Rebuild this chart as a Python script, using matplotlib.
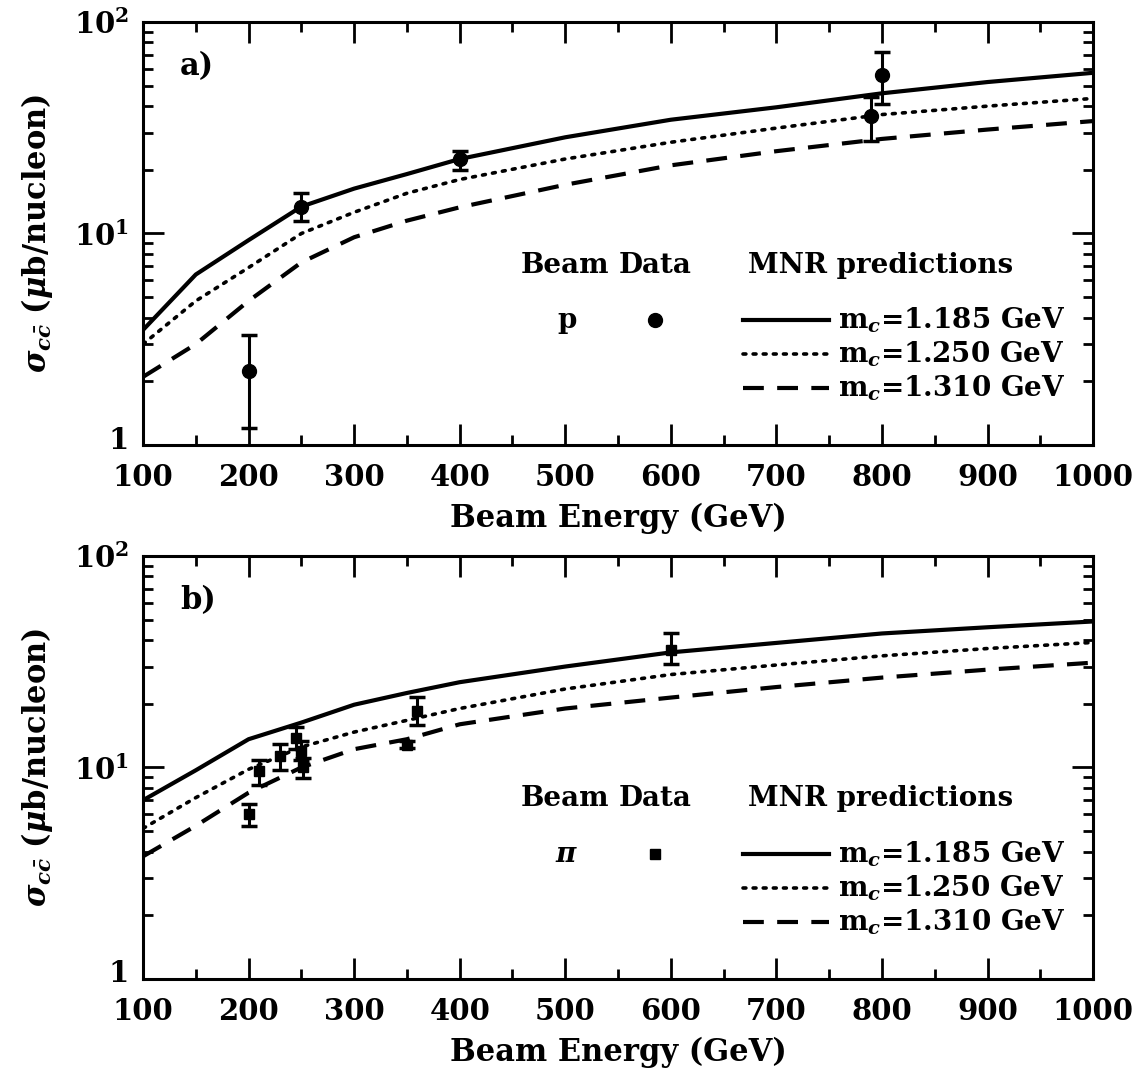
import matplotlib
matplotlib.use("Agg")
import matplotlib.pyplot as plt
import matplotlib.transforms as mtransforms
from matplotlib.ticker import FixedLocator, MultipleLocator, NullFormatter
from matplotlib.lines import Line2D

plt.rcParams['font.family'] = 'DejaVu Serif'
plt.rcParams['font.weight'] = 'bold'
plt.rcParams['mathtext.fontset'] = 'custom'
plt.rcParams['mathtext.rm'] = 'DejaVu Serif:bold'
plt.rcParams['mathtext.it'] = 'DejaVu Serif:italic:bold'
plt.rcParams['mathtext.bf'] = 'DejaVu Serif:bold'

# MNR prediction curves (beam energy in GeV, sigma in ub/nucleon)
energy = [100, 150, 200, 250, 300, 350, 400, 500, 600, 700, 800, 900, 1000]

# a) proton beam
p_1185 = [3.5, 6.4, 9.3, 13.4, 16.3, 19.1, 22.5, 28.5, 34.5, 39.5, 46.0, 52.0, 57.5]
p_1250 = [3.0, 4.8, 6.9, 10.0, 12.6, 15.5, 18.0, 22.5, 27.0, 31.5, 36.5, 40.0, 43.5]
p_1310 = [2.1, 3.0, 4.8, 7.3, 9.6, 11.5, 13.3, 17.0, 21.0, 24.5, 28.0, 31.0, 34.0]

# b) pion beam
pi_1185 = [7.0, 9.7, 13.6, 16.3, 19.8, 22.5, 25.3, 30.0, 35.0, 38.8, 43.0, 46.0, 49.0]
pi_1250 = [5.15, 7.2, 9.8, 12.5, 14.7, 16.7, 19.0, 23.5, 27.5, 30.5, 33.7, 36.5, 39.0]
pi_1310 = [3.8, 5.3, 7.6, 10.0, 12.2, 13.6, 16.0, 19.0, 21.4, 24.0, 26.6, 29.0, 31.3]

# data points
p_E = [200, 250, 400, 790, 800]
p_sig = [2.25, 13.3, 22.5, 36.0, 56.0]
p_lo = [1.2, 11.4, 20.0, 27.5, 41.0]
p_hi = [3.3, 15.5, 24.5, 44.0, 72.0]

pi_E = [200, 210, 230, 245, 250, 252, 350, 360, 600]
pi_sig = [6.0, 9.6, 11.3, 13.8, 12.0, 10.0, 12.8, 18.5, 36.0]
pi_lo = [5.3, 8.3, 9.7, 12.2, 10.8, 8.9, 12.3, 15.8, 31.0]
pi_hi = [6.7, 10.8, 12.9, 15.5, 13.3, 11.1, 13.3, 21.5, 43.0]

mass_labels = ["1.185", "1.250", "1.310"]

fig = plt.figure(figsize=(11.47, 10.82), dpi=100)
ax1 = fig.add_axes([0.1247, 0.5887, 0.8283, 0.391])
ax2 = fig.add_axes([0.1247, 0.0952, 0.8283, 0.391])

styles = [dict(ls='-', lw=3.0),
          dict(ls=(0, (0.8, 2.0)), lw=2.6, dash_capstyle='round'),
          dict(ls=(0, (5, 3.2)), lw=3.0)]


def draw_panel(ax, curves, E, sig, lo, hi, marker, msize, tag, beam):
    for c, st in zip(curves, styles):
        ax.plot(energy, c, color='black', **st)
    yerr = [[s - l for s, l in zip(sig, lo)], [h - s for s, h in zip(sig, hi)]]
    ax.errorbar(E, sig, yerr=yerr, fmt=marker, color='black', ms=msize,
                elinewidth=2.2, capsize=6, capthick=2.5, zorder=5)
    ax.set_yscale('log')
    ax.set_xlim(100, 1000)
    ax.set_ylim(1, 100)
    ax.xaxis.set_major_locator(MultipleLocator(100))
    ax.xaxis.set_minor_locator(MultipleLocator(50))
    ax.yaxis.set_major_locator(FixedLocator([1, 10, 100]))
    ax.yaxis.set_minor_locator(FixedLocator([m * d for d in (1, 10) for m in range(2, 10)]))
    ax.yaxis.set_minor_formatter(NullFormatter())
    ax.set_yticklabels(['1', r'$10^1$', r'$10^2$'])
    ax.tick_params(which='both', direction='in', top=True, right=True, width=2.0)
    ax.tick_params(which='major', length=15, labelsize=21)
    ax.tick_params(axis='x', which='major', pad=13)
    ax.tick_params(axis='y', which='major', pad=10)
    ax.tick_params(which='minor', length=7)
    # lift the "1" label a little, as in the original
    lab = ax.get_yticklabels()[0]
    lab.set_transform(lab.get_transform() + mtransforms.ScaledTranslation(0, 0.08, ax.figure.dpi_scale_trans))
    for sp in ax.spines.values():
        sp.set_linewidth(2.2)
    ax.set_xlabel('Beam Energy (GeV)', fontsize=22, fontweight='bold', labelpad=8)
    ax.set_ylabel(r'$\sigma_{c\bar{c}}$ ($\mu$b/nucleon)', fontsize=22, fontweight='bold', labelpad=14)
    ax.text(0.039, 0.894, tag, transform=ax.transAxes, fontsize=22, fontweight='bold', va='center')

    # legend block
    ax.text(0.444, 0.4255, 'Beam', transform=ax.transAxes, fontsize=20, ha='center', va='center')
    ax.text(0.539, 0.4255, 'Data', transform=ax.transAxes, fontsize=20, ha='center', va='center')
    ax.text(0.637, 0.4255, 'MNR predictions', transform=ax.transAxes, fontsize=20, ha='left', va='center')
    ax.text(0.446, 0.295, beam, transform=ax.transAxes, fontsize=20, ha='center', va='center')
    ax.plot([0.539], [0.295], marker=marker, ms=msize, color='black', transform=ax.transAxes)
    rows = [0.295, 0.215, 0.135]
    for y, st, m in zip(rows, styles, mass_labels):
        ax.add_line(Line2D([0.631, 0.722], [y, y], color='black', transform=ax.transAxes, **st))
        ax.text(0.732, y, r'm$_c$=' + m + ' GeV', transform=ax.transAxes, fontsize=20,
                ha='left', va='center')


draw_panel(ax1, [p_1185, p_1250, p_1310], p_E, p_sig, p_lo, p_hi, 'o', 10, 'a)', 'p')
draw_panel(ax2, [pi_1185, pi_1250, pi_1310], pi_E, pi_sig, pi_lo, pi_hi, 's', 7, 'b)', r'$\pi$')

fig.savefig('out.png', dpi=100)
